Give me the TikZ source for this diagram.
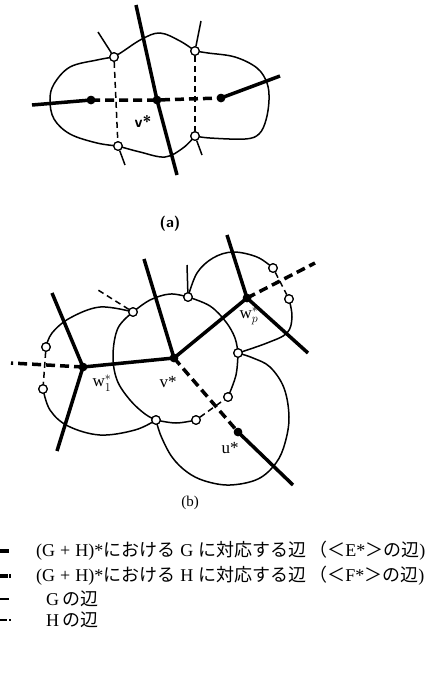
\documentclass[tikz,border=0pt]{standalone}
\usepackage{fontspec}
\setmainfont{Liberation Serif}
\newfontfamily\jp{Noto Sans CJK JP}
\newcommand{\J}[1]{{\jp #1}}
\begin{document}
\begin{tikzpicture}[x=1pt,y=-1pt,
	gline/.style={line width=1.5pt},
	hline/.style={line width=1.5pt,dash pattern=on 6pt off 4pt},
	gstar/.style={line width=3.5pt},
	hstar/.style={line width=3.5pt,dash pattern=on 9pt off 5pt},
	dot/.style={circle,fill,inner sep=0pt,minimum size=8.5pt},
	ring/.style={circle,draw,fill=white,line width=1.2pt,inner sep=0pt,minimum size=8.5pt},
	lbl/.style={font=\fontsize{17}{19}\selectfont,inner sep=0pt}]
	\useasboundingbox (0,0) rectangle (427,673);
	% (a)
	\coordinate (at) at (136,5);
	\coordinate (ab) at (177,175);
	\coordinate (al) at (32,105);
	\coordinate (ar) at (280,76);
	\coordinate (s1) at (98,32);
	\coordinate (s2) at (201,21);
	\coordinate (s3) at (125,165);
	\coordinate (s4) at (202,155);
	\node[dot] (p) at (91,100) {};
	\node[dot] (v) at (157,100) {};
	\node[dot] (q) at (221,98) {};
	\node[ring] (a1) at (114,57) {};
	\node[ring] (a2) at (195,51) {};
	\node[ring] (a3) at (118,146) {};
	\node[ring] (a4) at (195,136) {};
	\draw[gline] plot[smooth,tension=0.6] coordinates {(a1) (97,60) (70,67) (54,84) (50,100) (54,119) (70,134) (97,143) (a3)};
	\draw[gline] plot[smooth,tension=0.6] coordinates {(a3) (140,152) (165,157) (183,148) (a4)};
	\draw[gline] plot[smooth,tension=0.6] coordinates {(a4) (210,138) (245,139) (259,134) (266,120) (269,100) (267,83) (257,68) (235,57) (208,53) (a2)};
	\draw[gline] plot[smooth,tension=0.6] coordinates {(a2) (180,41) (160,33) (142,39) (122,52) (a1)};
	\draw[gline] (a1) -- (s1);
	\draw[gline] (a2) -- (s2);
	\draw[gline] (a3) -- (s3);
	\draw[gline] (a4) -- (s4);
	\draw[hline] (a1) -- (a3);
	\draw[hline] (a2) -- (a4);
	\draw[gstar] (at) -- (v.center) -- (ab);
	\draw[gstar] (al) -- (p.center);
	\draw[gstar] (q.center) -- (ar);
	\draw[hstar] (p.center) -- (v.center) -- (q.center);
	\foreach \n in {p,v,q} {\node[dot] at (\n) {};}
	\foreach \n in {a1,a2,a3,a4} {\node[ring] at (\n) {};}
	\node[lbl,font=\sffamily\bfseries\fontsize{16}{18}\selectfont] (lv) at (143,121) {v*};
	\node[lbl,font=\sffamily\bfseries\fontsize{15}{17}\selectfont] (la) at (170,224) {(a)};
	% (b)
	\node[dot] (w) at (174,358) {};
	\node[dot] (w1) at (83,367) {};
	\node[dot] (wp) at (247,298) {};
	\node[dot] (u) at (238,432) {};
	\coordinate (t1) at (144,259);
	\coordinate (t2) at (52,293);
	\coordinate (t3) at (57,451);
	\coordinate (t4) at (11,363);
	\coordinate (t5) at (227,235);
	\coordinate (t6) at (308,353);
	\coordinate (t7) at (315,263);
	\coordinate (t8) at (293,485);
	\coordinate (r1) at (98,290);
	\coordinate (r2) at (187,265);
	\node[ring] (b1) at (133,312) {};
	\node[ring] (b2) at (188,297) {};
	\node[ring] (b3) at (273,268) {};
	\node[ring] (b4) at (289,299) {};
	\node[ring] (b5) at (238,353) {};
	\node[ring] (b6) at (228,397) {};
	\node[ring] (b7) at (196,420) {};
	\node[ring] (b8) at (156,420) {};
	\node[ring] (b9) at (46,347) {};
	\node[ring] (b10) at (43,389) {};
	\draw[gline] plot[smooth,tension=0.6] coordinates {(b1) (100,307) (70,318) (52,333) (b9)};
	\draw[gline] plot[smooth,tension=0.6] coordinates {(b10) (50,410) (68,426) (100,435) (135,430) (b8)};
	\draw[gline] plot[smooth,tension=0.6] coordinates {(b1) (118,328) (113,355) (117,380) (130,400) (145,414) (b8)};
	\draw[gline] plot[smooth,tension=0.6] coordinates {(b8) (176,423) (b7)};
	\draw[gline] plot[smooth,tension=0.6] coordinates {(b6) (236,375) (b5)};
	\draw[gline] plot[smooth,tension=0.6] coordinates {(b5) (235,338) (226,322) (210,306) (b2)};
	\draw[gline] plot[smooth,tension=0.6] coordinates {(b2) (170,294) (150,300) (b1)};
	\draw[gline] plot[smooth,tension=0.6] coordinates {(b2) (197,273) (213,258) (233,252) (257,257) (b3)};
	\draw[gline] plot[smooth,tension=0.6] coordinates {(b4) (292,317) (287,333) (267,343) (b5)};
	\draw[gline] plot[smooth,tension=0.6] coordinates {(b5) (253,358) (270,367) (284,388) (289,417) (285,443) (276,463) (258,479) (230,485) (205,481) (187,472) (172,457) (161,436) (b8)};
	\draw[gline] (b2) -- (r2);
	\draw[hline] (b1) -- (r1);
	\draw[hline] (b9) -- (b10);
	\draw[hline] (b3) -- (b4);
	\draw[hline] (b7) -- (b6);
	\draw[gstar] (t1) -- (w.center) -- (w1.center);
	\draw[gstar] (w.center) -- (wp.center);
	\draw[gstar] (t2) -- (w1.center) -- (t3);
	\draw[gstar] (t5) -- (wp.center) -- (t6);
	\draw[gstar] (u.center) -- (t8);
	\draw[hstar] (w.center) -- (u.center);
	\draw[hstar] (w1.center) -- (t4);
	\draw[hstar] (wp.center) -- (t7);
	\foreach \n in {w,w1,wp,u} {\node[dot] at (\n) {};}
	\foreach \n in {b1,b2,b3,b4,b5,b6,b7,b8,b9,b10} {\node[ring] at (\n) {};}
	\node[lbl] (lw1) at (102,383) {w$^{*}_{1}$};
	\node[lbl] (lw) at (168,382) {v*};
	\node[lbl] (lwp) at (249,316) {w$^{*}_{p}$};
	\node[lbl] (lu) at (230,448) {u*};
	\node[lbl,font=\fontsize{15}{17}\selectfont] (lb) at (190,503) {(b)};
	% legend
	\coordinate (k1a) at (0,551); \coordinate (k1b) at (9,551);
	\coordinate (k2a) at (0,576); \coordinate (k2b) at (11,576);
	\coordinate (k3a) at (0,599); \coordinate (k3b) at (9,599);
	\coordinate (k4a) at (0,620); \coordinate (k4b) at (11,620);
	\draw[gstar] (k1a) -- (k1b);
	\draw[line width=3.5pt,dash pattern=on 7.5pt off 1.5pt] (k2a) -- (k2b);
	\draw[gline] (k3a) -- (k3b);
	\draw[line width=1.5pt,dash pattern=on 7pt off 2pt] (k4a) -- (k4b);
	\begin{scope}[every node/.style={anchor=west,inner sep=0pt,font=\fontsize{18}{20}\selectfont}]
		\node (e1) at (36,551) {(G\;+\;H)*\J{における}\;G\;\J{に対応する辺}\,\J{（＜}E*\J{＞の辺}\/)};
		\node (e2) at (36,576) {(G\;+\;H)*\J{における}\;H\;\J{に対応する辺}\,\J{（＜}F*\J{＞の辺}\/)};
		\node (e3) at (46,599) {G\,\J{の辺}};
		\node (e4) at (46,620) {H\,\J{の辺}};
	\end{scope}
\end{tikzpicture}
\end{document}
